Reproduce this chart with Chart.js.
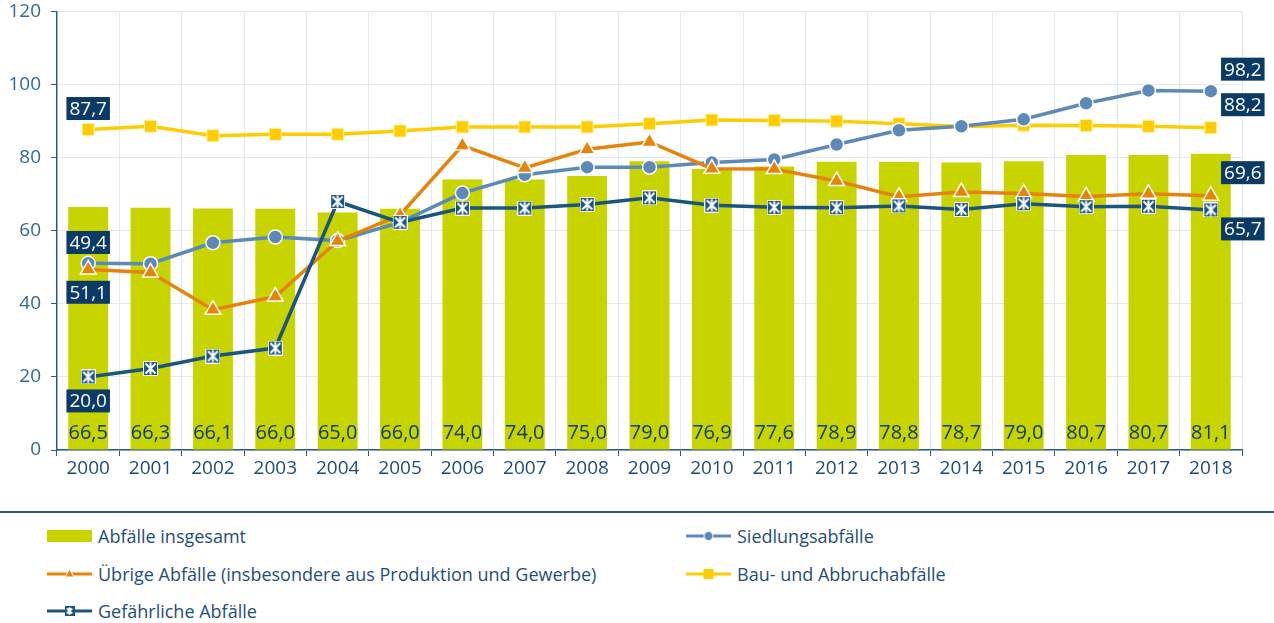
<!DOCTYPE html>
<html>
<head>
<meta charset="utf-8">
<script src="https://cdn.jsdelivr.net/npm/chart.js@4"></script>
<style>
  body { margin: 0; background: #fff; }
  #wrap { position: relative; width: 1274px; height: 623px; overflow: hidden; }
  #box { position: absolute; left: 0; top: -8px; width: 1274px; height: 488px; }
  #rule { position: absolute; left: 0; top: 511px; width: 1274px; height: 2px; background: #2a5a88; }
  .item { position: absolute; height: 24px; display: flex; align-items: center;
          font-family: "Open Sans", sans-serif; font-size: 18px; color: #1f4e79; }
  .item canvas { margin-right: 5px; }
</style>
</head>
<body>
<div id="wrap">
  <div id="box"><canvas id="chart1"></canvas></div>
  <div id="rule"></div>
  <div id="legend"></div>
</div>
<script>
"use strict";

var years = ['2000', '2001', '2002', '2003', '2004', '2005', '2006', '2007', '2008', '2009',
  '2010', '2011', '2012', '2013', '2014', '2015', '2016', '2017', '2018'];
var insgesamt = [66.5, 66.3, 66.1, 66.0, 65.0, 66.0, 74.0, 74.0, 75.0, 79.0, 76.9, 77.6, 78.9, 78.8, 78.7, 79.0, 80.7, 80.7, 81.1];
var siedlung = [51.1, 51.0, 56.7, 58.3, 57.3, 62.3, 70.3, 75.3, 77.4, 77.4, 78.7, 79.5, 83.6, 87.5, 88.6, 90.5, 94.9, 98.4, 98.2];
var uebrige = [49.4, 48.6, 38.4, 42.0, 57.2, 64.3, 83.3, 77.2, 82.3, 84.3, 77.0, 76.9, 73.6, 69.3, 70.6, 70.2, 69.4, 70.1, 69.6];
var bau = [87.7, 88.6, 86.0, 86.4, 86.4, 87.3, 88.4, 88.4, 88.4, 89.3, 90.3, 90.2, 90.0, 89.3, 88.5, 88.9, 88.8, 88.6, 88.2];
var gefaehrlich = [20.0, 22.3, 25.7, 27.9, 68.0, 62.3, 66.2, 66.2, 67.2, 69.0, 67.0, 66.4, 66.3, 66.8, 65.8, 67.4, 66.6, 66.7, 65.7];
var yTicks = [0, 20, 40, 60, 80, 100, 120];

var colors = {
  bar: '#c8d400',
  siedlung: '#5b8ab8',
  uebrige: '#e8830a',
  bau: '#ffcc00',
  gef: '#1a5580',
  navy: '#0a3a66',
  tick: '#2f6b9a',
  xtick: '#1d4c79'
};

var fmt = function (v) { return v.toFixed(1).replace('.', ','); };

// square with white star for hazardous waste
var crossMarker = function (size, frame) {
  var c = document.createElement('canvas');
  c.width = size; c.height = size;
  var g = c.getContext('2d');
  g.fillStyle = colors.gef;
  g.fillRect(0, 0, size, size);
  g.strokeStyle = '#fff';
  if (frame) {
    g.lineWidth = 1;
    g.strokeRect(0.5, 0.5, size - 1, size - 1);
  }
  g.lineWidth = 2;
  g.beginPath();
  g.moveTo(2.5, 2.5); g.lineTo(size - 2.5, size - 2.5);
  g.moveTo(size - 2.5, 2.5); g.lineTo(2.5, size - 2.5);
  g.moveTo(size / 2, 1.5); g.lineTo(size / 2, size - 1.5);
  g.stroke();
  return c;
};
var gefMarker = crossMarker(15, true);

// labels in dark boxes: dataset index, point index, pixel offset
var boxLabels = [
  { ds: 4, i: 0, dx: 0, dy: -21 },
  { ds: 2, i: 0, dx: 0, dy: -27 },
  { ds: 1, i: 0, dx: 0, dy: 29 },
  { ds: 3, i: 0, dx: 0, dy: 24 },
  { ds: 1, i: 18, dx: 32, dy: -22 },
  { ds: 4, i: 18, dx: 32, dy: -23 },
  { ds: 2, i: 18, dx: 32, dy: -23 },
  { ds: 3, i: 18, dx: 32, dy: 19 }
];

var labelPlugin = {
  id: 'labels',
  afterDatasetsDraw: function (chart) {
    var c = chart.ctx;
    var area = chart.chartArea;
    c.save();
    c.font = '20px "Open Sans", sans-serif';
    c.fillStyle = '#0f3c64';
    c.textAlign = 'center';
    c.textBaseline = 'middle';
    chart.getDatasetMeta(0).data.forEach(function (bar, i) {
      c.fillText(fmt(insgesamt[i]), bar.x, area.bottom - 17);
    });
    boxLabels.forEach(function (l) {
      var pt = chart.getDatasetMeta(l.ds).data[l.i];
      var txt = fmt(chart.data.datasets[l.ds].data[l.i]);
      var x = pt.x + l.dx, y = pt.y + l.dy;
      c.font = '19px "Open Sans", sans-serif';
      var w = c.measureText(txt).width + 6;
      c.fillStyle = colors.navy;
      c.fillRect(x - w / 2, y - 11.5, w, 23);
      c.fillStyle = '#fff';
      c.fillText(txt, x, y + 1);
    });
    c.restore();
  }
};

var ctx = document.getElementById('chart1').getContext('2d');
new Chart(ctx, {
  type: 'bar',
  data: {
    labels: years,
    datasets: [{
      type: 'bar',
      label: 'Abfälle insgesamt',
      data: insgesamt,
      backgroundColor: colors.bar,
      barPercentage: 0.8,
      categoryPercentage: 0.8,
      order: 4
    }, {
      type: 'line',
      label: 'Siedlungsabfälle',
      data: siedlung,
      borderColor: colors.siedlung,
      backgroundColor: colors.siedlung,
      pointBorderColor: '#fff',
      pointBorderWidth: 1.5,
      pointStyle: 'circle',
      pointRadius: 7,
      borderWidth: 3.5,
      order: 2
    }, {
      type: 'line',
      label: 'Übrige Abfälle (insbesondere aus Produktion und Gewerbe)',
      data: uebrige,
      borderColor: colors.uebrige,
      backgroundColor: colors.uebrige,
      pointBorderColor: '#fff',
      pointBorderWidth: 1.5,
      pointStyle: 'triangle',
      pointRadius: 9,
      borderWidth: 3.5,
      order: 1
    }, {
      type: 'line',
      label: 'Gefährliche Abfälle',
      data: gefaehrlich,
      borderColor: colors.gef,
      backgroundColor: colors.gef,
      pointStyle: gefMarker,
      borderWidth: 3.5,
      order: 0
    }, {
      type: 'line',
      label: 'Bau- und Abbruchabfälle',
      data: bau,
      borderColor: colors.bau,
      backgroundColor: colors.bau,
      pointBorderColor: '#fff3a8',
      pointBorderWidth: 1,
      pointStyle: 'rect',
      pointRadius: 8.5,
      borderWidth: 3.5,
      order: 3
    }]
  },
  options: {
    responsive: true,
    maintainAspectRatio: false,
    animation: false,
    layout: { padding: { top: 1, right: 32, left: 0, bottom: 0 } },
    plugins: {
      legend: { display: false },
      tooltip: { enabled: false }
    },
    scales: {
      x: {
        offset: true,
        grid: { offset: true, color: '#e3e8f2', tickColor: '#2a5a88', tickLength: 6 },
        border: { color: '#2a5a88', width: 1.5 },
        ticks: { color: colors.xtick, font: { family: 'Open Sans', size: 19, lineHeight: 1 }, padding: 3, maxRotation: 0 },
        afterFit: function (s) { s.height = 30; }
      },
      y: {
        min: 0,
        max: 120,
        afterBuildTicks: function (s) { s.ticks = yTicks.map(function (v) { return { value: v }; }); },
        grid: { color: '#e3e8f2', tickColor: '#2a5a88', tickLength: 6 },
        border: { color: '#2a5a88', width: 1.5 },
        ticks: { color: colors.tick, font: { family: 'Open Sans', size: 19, lineHeight: 1 }, padding: 10 },
        afterFit: function (s) { s.width = 57; }
      }
    }
  },
  plugins: [labelPlugin]
});

// legend below the rule
var legendItems = [
  { text: 'Abfälle insgesamt', kind: 'bar', color: colors.bar, x: 47, y: 524 },
  { text: 'Siedlungsabfälle', kind: 'circle', color: colors.siedlung, x: 686, y: 524 },
  { text: 'Übrige Abfälle (insbesondere aus Produktion und Gewerbe)', kind: 'triangle', color: colors.uebrige, x: 47, y: 562 },
  { text: 'Bau- und Abbruchabfälle', kind: 'rect', color: colors.bau, x: 686, y: 562 },
  { text: 'Gefährliche Abfälle', kind: 'cross', color: colors.gef, x: 47, y: 599 }
];

var legend = document.getElementById('legend');
legendItems.forEach(function (it) {
  var d = document.createElement('div');
  d.className = 'item';
  d.style.left = it.x + 'px';
  d.style.top = it.y + 'px';
  var cv = document.createElement('canvas');
  cv.width = 46; cv.height = 24;
  var g = cv.getContext('2d');
  if (it.kind === 'bar') {
    g.fillStyle = it.color;
    g.fillRect(0, 6, 45, 12);
  } else {
    g.strokeStyle = it.color;
    g.lineWidth = 3;
    g.beginPath(); g.moveTo(0, 12); g.lineTo(45, 12); g.stroke();
    g.fillStyle = it.color;
    if (it.kind === 'circle') {
      g.strokeStyle = '#fff'; g.lineWidth = 1;
      g.beginPath(); g.arc(22.5, 12, 4.5, 0, Math.PI * 2); g.fill(); g.stroke();
    } else if (it.kind === 'rect') {
      g.fillRect(17.5, 7, 10, 10);
    } else if (it.kind === 'triangle') {
      g.strokeStyle = '#fff'; g.lineWidth = 1;
      g.beginPath(); g.moveTo(22.5, 7); g.lineTo(27, 15); g.lineTo(18, 15); g.closePath(); g.fill(); g.stroke();
    } else {
      g.drawImage(crossMarker(10, false), 17.5, 7);
    }
  }
  d.appendChild(cv);
  var t = document.createElement('span');
  t.textContent = it.text;
  d.appendChild(t);
  legend.appendChild(d);
});
</script>
</body>
</html>
